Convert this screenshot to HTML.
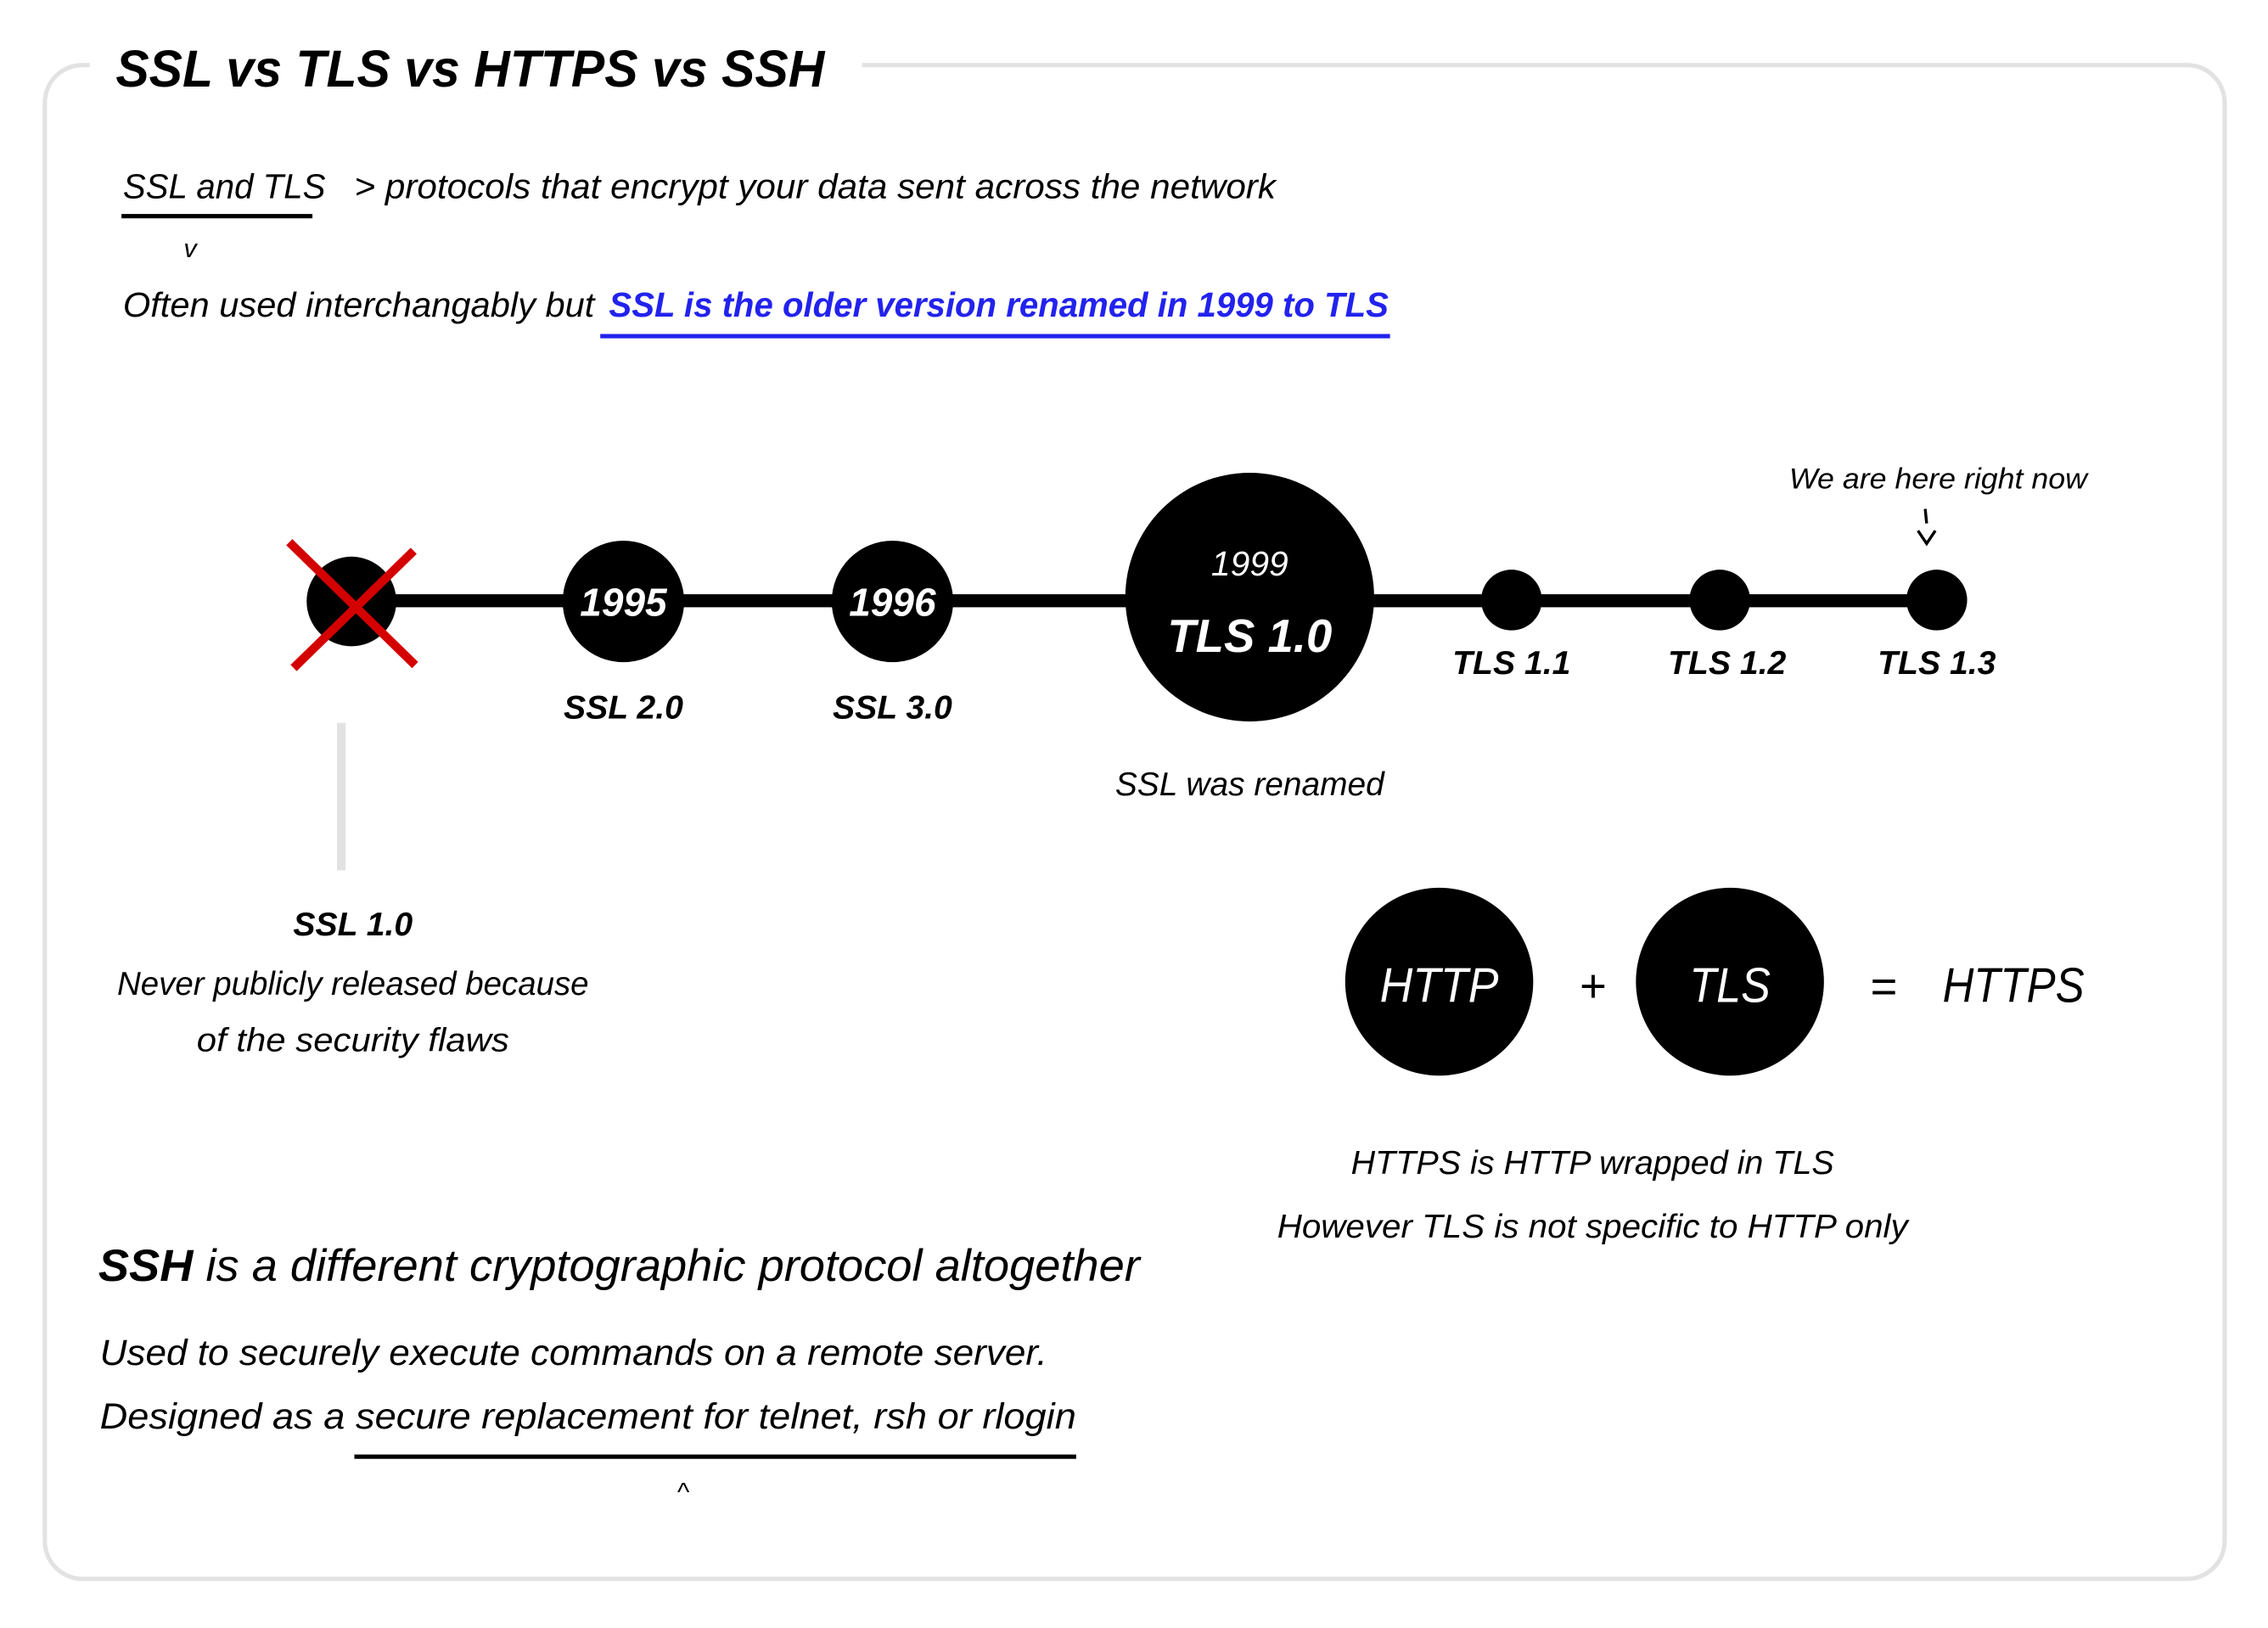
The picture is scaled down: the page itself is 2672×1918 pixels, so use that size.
<!DOCTYPE html>
<html><head><meta charset="utf-8"><style>
html,body{margin:0;padding:0;background:#fff}
svg{display:block}
text{font-family:"Liberation Sans",sans-serif;font-style:italic;fill:#000}
.b{font-weight:bold}
</style></head><body>
<svg width="2672" height="1918" viewBox="0 0 1568 1126" preserveAspectRatio="none" xmlns="http://www.w3.org/2000/svg">
<rect width="1568" height="1126" fill="#fff"/>
<rect x="31" y="45" width="1507" height="1047" rx="26" fill="none" stroke="#e2e2e2" stroke-width="3"/>
<rect x="62" y="30" width="534" height="30" fill="#fff"/>
<text x="80" y="60" class="b" font-size="36" textLength="490" lengthAdjust="spacingAndGlyphs">SSL vs TLS vs HTTPS vs SSH</text>

<text x="85" y="137" font-size="24" textLength="140" lengthAdjust="spacingAndGlyphs">SSL and TLS</text>
<rect x="84" y="148" width="132" height="3" fill="#000"/>
<text x="245" y="137" font-size="24" textLength="637" lengthAdjust="spacingAndGlyphs">&gt; protocols that encrypt your data sent across the network</text>
<text x="127" y="178" font-size="18" font-style="normal">v</text>
<text x="85" y="219" font-size="24" textLength="326" lengthAdjust="spacingAndGlyphs">Often used interchangably but</text>
<text x="421" y="219" font-size="24" class="b" style="fill:#2222ee" textLength="539" lengthAdjust="spacingAndGlyphs">SSL is the older version renamed in 1999 to TLS</text>
<rect x="415" y="231" width="546" height="3" fill="#2222ee"/>

<rect x="243" y="411" width="1097" height="9" fill="#000"/>
<circle cx="243" cy="416" r="31" fill="#000"/>
<line x1="200" y1="375" x2="287" y2="460" stroke="#d40000" stroke-width="6"/>
<line x1="286" y1="381" x2="203" y2="462" stroke="#d40000" stroke-width="6"/>
<circle cx="431" cy="416" r="42" fill="#000"/>
<circle cx="617" cy="416" r="42" fill="#000"/>
<circle cx="864" cy="413" r="86" fill="#000"/>
<circle cx="1045" cy="415" r="21" fill="#000"/>
<circle cx="1189" cy="415" r="21" fill="#000"/>
<circle cx="1339" cy="415" r="21" fill="#000"/>
<text x="431" y="426" class="b" font-size="27" text-anchor="middle" style="fill:#fff">1995</text>
<text x="617" y="426" class="b" font-size="27" text-anchor="middle" style="fill:#fff">1996</text>
<text x="864" y="398" font-size="24" text-anchor="middle" style="fill:#fff">1999</text>
<text x="864" y="451" class="b" font-size="32" text-anchor="middle" style="fill:#fff">TLS 1.0</text>
<text x="431" y="497" class="b" font-size="23" text-anchor="middle">SSL 2.0</text>
<text x="617" y="497" class="b" font-size="23" text-anchor="middle">SSL 3.0</text>
<text x="1045" y="466" class="b" font-size="23" text-anchor="middle">TLS 1.1</text>
<text x="1194" y="466" class="b" font-size="23" text-anchor="middle">TLS 1.2</text>
<text x="1339" y="466" class="b" font-size="23" text-anchor="middle">TLS 1.3</text>
<text x="1340" y="338" font-size="20" text-anchor="middle" textLength="206" lengthAdjust="spacingAndGlyphs">We are here right now</text>
<line x1="1331" y1="352" x2="1332" y2="362" stroke="#000" stroke-width="2"/>
<polyline points="1326,367 1332,376 1338,367" fill="none" stroke="#000" stroke-width="2"/>
<text x="864" y="550" font-size="23" text-anchor="middle" textLength="186" lengthAdjust="spacingAndGlyphs">SSL was renamed</text>

<rect x="233" y="500" width="6" height="102" fill="#e2e2e2"/>
<text x="244" y="647" class="b" font-size="23" text-anchor="middle">SSL 1.0</text>
<text x="244" y="688" font-size="23" text-anchor="middle" textLength="326" lengthAdjust="spacingAndGlyphs">Never publicly released because</text>
<text x="244" y="727" font-size="23" text-anchor="middle" textLength="216" lengthAdjust="spacingAndGlyphs">of the security flaws</text>

<circle cx="995" cy="679" r="65" fill="#000"/>
<circle cx="1196" cy="679" r="65" fill="#000"/>
<text x="995" y="693" font-size="34" text-anchor="middle" style="fill:#fff" textLength="82" lengthAdjust="spacingAndGlyphs">HTTP</text>
<text x="1196" y="693" font-size="34" text-anchor="middle" style="fill:#fff" textLength="56" lengthAdjust="spacingAndGlyphs">TLS</text>
<text x="1101" y="693" font-size="32" text-anchor="middle">+</text>
<text x="1302" y="693" font-size="32" text-anchor="middle">=</text>
<text x="1392" y="693" font-size="34" text-anchor="middle" textLength="98" lengthAdjust="spacingAndGlyphs">HTTPS</text>
<text x="1101" y="812" font-size="23" text-anchor="middle" textLength="334" lengthAdjust="spacingAndGlyphs">HTTPS is HTTP wrapped in TLS</text>
<text x="1101" y="856" font-size="23" text-anchor="middle" textLength="436" lengthAdjust="spacingAndGlyphs">However TLS is not specific to HTTP only</text>

<text x="68" y="886" font-size="31" textLength="720" lengthAdjust="spacingAndGlyphs"><tspan class="b">SSH</tspan> is a different cryptographic protocol altogether</text>
<text x="69" y="944" font-size="25" textLength="655" lengthAdjust="spacingAndGlyphs">Used to securely execute commands on a remote server.</text>
<text x="69" y="988" font-size="25" textLength="675" lengthAdjust="spacingAndGlyphs">Designed as a secure replacement for telnet, rsh or rlogin</text>
<rect x="245" y="1006" width="499" height="3" fill="#000"/>
<text x="468" y="1038" font-size="18" font-style="normal">^</text>
</svg>
</body></html>
